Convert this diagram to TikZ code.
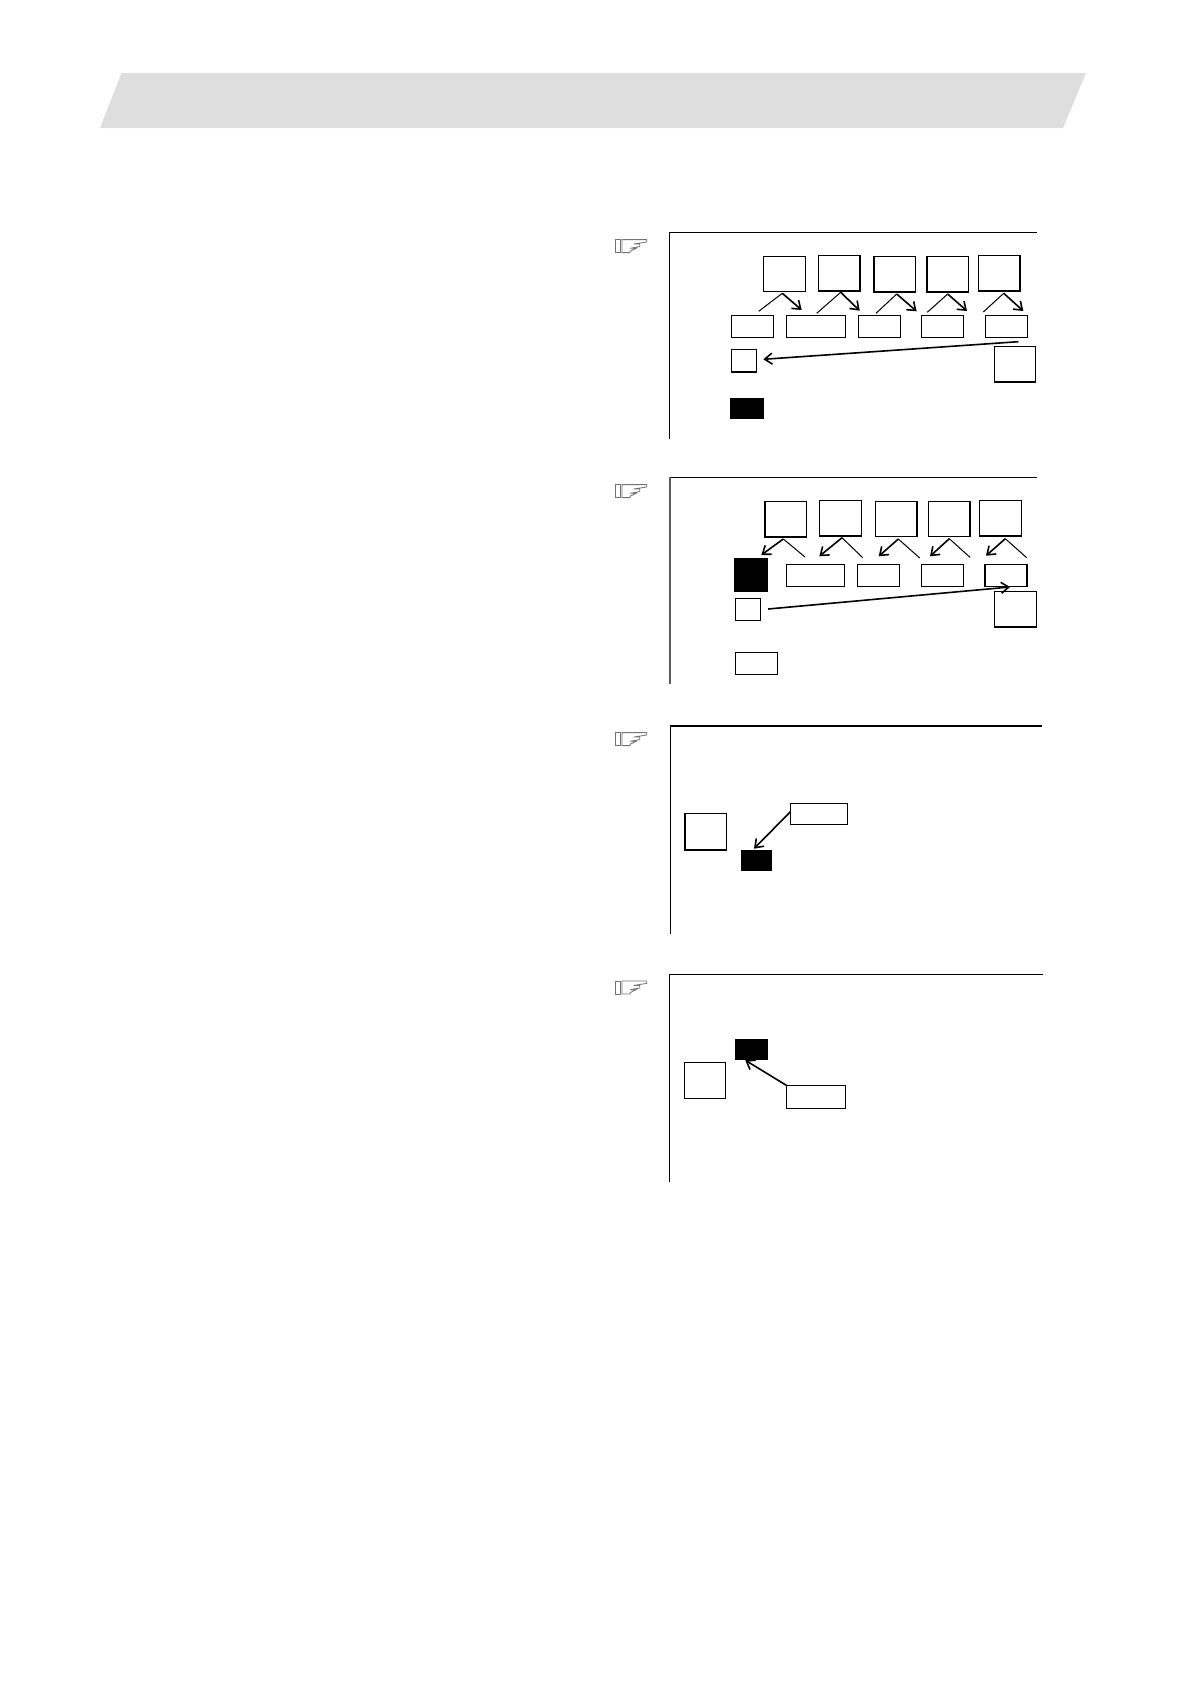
\documentclass[tikz,border=0pt]{standalone}
\usetikzlibrary{arrows.meta}
\tikzset{
  bx/.style={draw,line width=1.25pt,inner sep=0pt,outer sep=0pt,fill=white},
  topbox/.style={bx,minimum width=41.5pt,minimum height=35.5pt},
  midbox/.style={bx,line width=1.1pt,minimum width=42pt,minimum height=22pt},
  widebox/.style={bx,line width=1.1pt,minimum width=58.5pt,minimum height=22pt},
  tinybox/.style={bx,minimum width=25pt,minimum height=22.5pt},
  blackbox/.style={fill=black,inner sep=0pt,outer sep=0pt},
  frameline/.style={line width=1.1pt},
  leg/.style={line width=1pt},
  arr/.style={line width=1.6pt,-{Straight Barb[length=7.5pt,width=11pt]}},
  hand/.pic={
    \draw[black!55,line width=0.8pt] (0,0.3) rectangle (5,13.3);
    \draw[black!55,line width=0.8pt] (6.3,0.3) -- (31,0.3) -- (31,2.7) -- (18,4.7) -- (24,4.7) -- (24,7.3)
      -- (14.3,9) -- (20.3,9) -- (14.3,12) -- (14.3,13.3) -- (6.3,13.3) -- cycle;
  }
}
\begin{document}
\begin{tikzpicture}[x=1pt,y=-1pt]
\useasboundingbox (0,0) rectangle (1190,1684);
\fill[fill=black!13] (121.5,73) -- (1086,73) -- (1063,128) -- (100,128) -- cycle; % title band

% first panel
\pic at (615.7,239.3) {hand};
\draw[frameline] (1036.7,232.5) -- (669.5,232.5) -- (669.5,439);
\node[topbox] (ta1) at (784.5,274) {};
\node[topbox] (ta2) at (839.3,273.3) {};
\node[topbox] (ta3) at (894.8,274.2) {};
\node[topbox] (ta4) at (947.8,274.2) {};
\node[topbox] (ta5) at (999.3,273.2) {};
\node[midbox] (ma1) at (752.3,326.3) {};
\node[widebox] (ma2) at (815.8,326.3) {};
\node[midbox] (ma3) at (879.3,326.3) {};
\node[midbox] (ma4) at (942.3,326.3) {};
\node[midbox] (ma5) at (1006.3,326.3) {};
\node[tinybox] (sa) at (743.8,360.8) {};
\node[topbox] (ra) at (1015,364.2) {};
\node[blackbox,minimum width=33.7pt,minimum height=20.7pt] (ka) at (746.8,408.3) {};
\coordinate (pa1) at (782.3,293.3); \coordinate (la1) at (758.7,311.3); \coordinate (qa1) at (801.7,310);
\coordinate (pa2) at (840.7,292.3); \coordinate (la2) at (816.7,313.3); \coordinate (qa2) at (859.7,310.7);
\coordinate (pa3) at (896.7,294); \coordinate (la3) at (876,313.3); \coordinate (qa3) at (916.7,311.3);
\coordinate (pa4) at (947.7,294); \coordinate (la4) at (927.3,312.3); \coordinate (qa4) at (967,311);
\coordinate (pa5) at (1003.7,293.3); \coordinate (la5) at (983.3,312); \coordinate (qa5) at (1023.3,311);
\draw[leg] (la1) -- (pa1); \draw[arr] (pa1) -- (qa1);
\draw[leg] (la2) -- (pa2); \draw[arr] (pa2) -- (qa2);
\draw[leg] (la3) -- (pa3); \draw[arr] (pa3) -- (qa3);
\draw[leg] (la4) -- (pa4); \draw[arr] (pa4) -- (qa4);
\draw[leg] (la5) -- (pa5); \draw[arr] (pa5) -- (qa5);
\draw[arr] ([shift={(12,4.4)}]ma5.south) -- ([shift={(7,-1.5)}]sa.east);

% second panel
\pic at (615.7,484.3) {hand};
\draw[frameline] (1036.7,477.3) -- (670,477.3);
\draw[line width=1.6pt,black!65] (670,477.3) -- (670,684.3);
\node[topbox] (tb1) at (785.8,519.2) {};
\node[topbox] (tb2) at (840.5,518.2) {};
\node[topbox] (tb3) at (896.3,519) {};
\node[topbox] (tb4) at (949.2,519) {};
\node[topbox] (tb5) at (1000.5,518.3) {};
\node[blackbox,minimum width=34pt,minimum height=34pt] (mb1) at (751,575) {};
\node[widebox] (mb2) at (815.3,575.3) {};
\node[midbox] (mb3) at (878.8,575.3) {};
\node[midbox] (mb4) at (942.3,575.3) {};
\node[midbox] (mb5) at (1006,575.3) {};
\node[tinybox] (sb) at (748,609.5) {};
\node[topbox] (rb) at (1015.5,609.2) {};
\node[midbox] (kb) at (756.3,663.3) {};
\coordinate (pb1) at (783.3,539); \coordinate (lb1) at (761.3,555); \coordinate (qb1) at (805,557);
\coordinate (pb2) at (842,537.7); \coordinate (lb2) at (819.3,556.3); \coordinate (qb2) at (862.7,557.7);
\coordinate (pb3) at (898.3,539); \coordinate (lb3) at (878.7,556.3); \coordinate (qb3) at (919.7,558);
\coordinate (pb4) at (949.3,538.7); \coordinate (lb4) at (930,556.3); \coordinate (qb4) at (970,557.3);
\coordinate (pb5) at (1005.3,538.7); \coordinate (lb5) at (986,555.7); \coordinate (qb5) at (1026.7,557.7);
\draw[arr] (pb1) -- (lb1); \draw[leg] (pb1) -- (qb1);
\draw[arr] (pb2) -- (lb2); \draw[leg] (pb2) -- (qb2);
\draw[arr] (pb3) -- (lb3); \draw[leg] (pb3) -- (qb3);
\draw[arr] (pb4) -- (lb4); \draw[leg] (pb4) -- (qb4);
\draw[arr] (pb5) -- (lb5); \draw[leg] (pb5) -- (qb5);
\draw[arr] ([shift={(7.6,-0.5)}]sb.east) -- ([shift={(4,0.7)}]mb5.south);

% third panel
\pic at (615.7,732.3) {hand};
\draw[line width=1.7pt] (1042.3,726) -- (670.3,726);
\draw[frameline] (670.3,726) -- (670.3,933.7);
\node[topbox,line width=1.6pt,minimum height=36.3pt] (rc) at (705.7,831.8) {};
\node[widebox,line width=1.3pt,minimum width=57pt,minimum height=21pt] (cc) at (818.8,813.8) {};
\node[blackbox,minimum width=31pt,minimum height=20.7pt] (kc) at (756.5,860.3) {};
\draw[arr] ([yshift=2pt]cc.west) -- ([shift={(-2.5,-1.3)}]kc.north);

% fourth panel
\pic at (615.7,980.7) {hand};
\draw[frameline] (1043,974.3) -- (669.3,974.3) -- (669.3,1181.7);
\node[topbox,minimum height=36pt] (rd) at (705,1080.3) {};
\node[blackbox,minimum width=33pt,minimum height=20.7pt] (kd) at (751.5,1049.3) {};
\node[widebox,line width=1.3pt,minimum width=59.3pt,minimum height=23pt] (cd) at (816,1096.8) {};
\draw[arr] (cd.north west) -- ([shift={(-6.2,0.6)}]kd.south);
\end{tikzpicture}
\end{document}
